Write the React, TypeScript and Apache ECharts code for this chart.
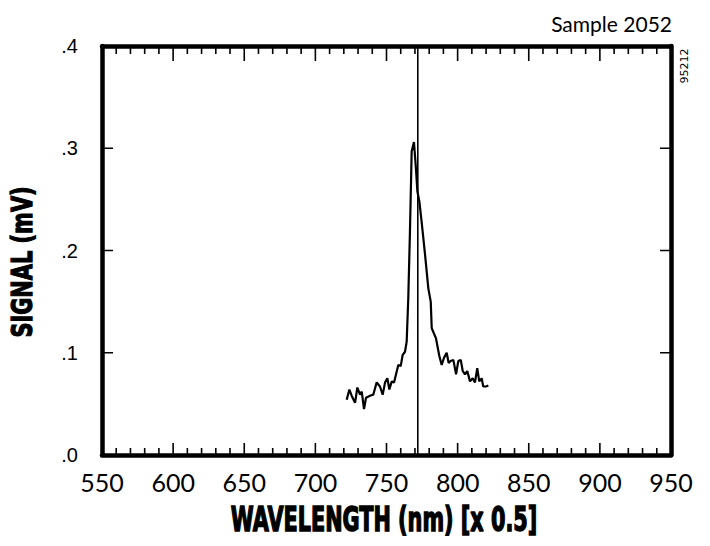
import React, { useEffect, useRef } from "react";
import * as echarts from "echarts";

const wavelengths = [
  722.0, 723.9, 725.5, 727.9, 729.5, 731.4, 732.6, 734.2, 735.6, 738.4, 740.7, 743.1,
  745.4, 747.3, 749.0, 750.6, 752.0, 753.7, 755.3, 756.7, 758.3, 760.0, 761.4, 763.0,
  764.2, 765.3, 766.5, 767.7, 769.3, 770.7, 771.7, 773.1, 774.7, 777.1, 779.4, 781.1,
  781.8, 784.8, 787.1, 788.8, 790.4, 792.3, 793.7, 795.1, 797.0, 798.9, 800.5, 802.2,
  803.6, 805.2, 806.8, 808.7, 810.6, 812.2, 813.8, 815.2, 816.9, 818.0, 819.9, 821.6,
];
const signal = [
  0.054, 0.064, 0.058, 0.051, 0.066, 0.059, 0.062, 0.045, 0.056, 0.058, 0.059, 0.071,
  0.067, 0.059, 0.071, 0.075, 0.064, 0.072, 0.071, 0.079, 0.088, 0.087, 0.098, 0.101,
  0.111, 0.153, 0.219, 0.297, 0.306, 0.28, 0.258, 0.248, 0.228, 0.196, 0.163, 0.15,
  0.124, 0.114, 0.097, 0.088, 0.095, 0.1, 0.09, 0.092, 0.093, 0.079, 0.092, 0.093,
  0.082, 0.079, 0.082, 0.072, 0.075, 0.071, 0.085, 0.072, 0.075, 0.067, 0.067, 0.068,
];
const markerWavelength = 772;
const xMin = 550;
const xMax = 950;
const xStep = 50;
const xMajorTicks = [550, 600, 650, 700, 750, 800, 850, 900, 950];
const xMinorOffsets = [10, 20, 30, 40];
const yMin = 0;
const yMax = 0.4;
const yStep = 0.1;
const yInnerTicks = [0.1, 0.2, 0.3];
const xTitle = "WAVELENGTH (nm) [x 0.5]";
const yTitle = "SIGNAL (mV)";
const sampleLabel = "Sample 2052";
const codeLabel = "95212";

const GRID = { left: 102, right: 39, top: 46, bottom: 91 };
const W = 710;
const H = 546;

const frame = { show: true, onZero: false, lineStyle: { color: "#000", width: 4.5 } };

export default function App() {
  const ref = useRef<HTMLDivElement>(null);
  useEffect(() => {
    if (!ref.current) return;
    const chart = echarts.init(ref.current, null, { renderer: "svg" });

    // tick lengths are given in pixels and converted to axis units
    const pxPerX = (W - GRID.left - GRID.right) / (xMax - xMin);
    const pxPerY = (H - GRID.top - GRID.bottom) / (yMax - yMin);
    const tickSegs: any[] = [];
    const seg = (x1: number, y1: number, x2: number, y2: number) => {
      tickSegs.push([x1, y1], [x2, y2], [x2, "-"]);
    };
    const xTick = (v: number, bottomPx: number, topPx: number) => {
      seg(v, yMin, v, yMin + bottomPx / pxPerY);
      seg(v, yMax, v, yMax - topPx / pxPerY);
    };
    xMajorTicks.forEach((m) => {
      xTick(m, 12, 15);
      if (m < xMax) xMinorOffsets.forEach((d) => xTick(m + d, 7, 8));
    });
    yInnerTicks.forEach((v) => {
      seg(xMin, v, xMin + 11 / pxPerX, v);
      seg(xMax, v, xMax - 11 / pxPerX, v);
    });

    chart.setOption({
      animation: false,
      backgroundColor: "#fff",
      grid: { ...GRID },
      xAxis: [
        {
          type: "value",
          position: "bottom",
          min: xMin,
          max: xMax,
          interval: xStep,
          axisLine: frame,
          axisTick: { show: false },
          splitLine: { show: false },
          axisLabel: {
            show: true,
            margin: 14,
            color: "#000",
            fontSize: 25,
            fontFamily: "Lato",
          },
        },
        {
          type: "value",
          position: "top",
          min: xMin,
          max: xMax,
          interval: xStep,
          axisLine: frame,
          axisTick: { show: false },
          splitLine: { show: false },
          axisLabel: { show: false },
        },
      ],
      yAxis: [
        {
          type: "value",
          position: "left",
          min: yMin,
          max: yMax,
          interval: yStep,
          axisLine: frame,
          axisTick: { show: false },
          splitLine: { show: false },
          axisLabel: {
            show: true,
            margin: 24,
            color: "#000",
            fontSize: 20,
            fontFamily: "Liberation Sans",
            padding: [6, 0, 0, 0],
            formatter: (v: number) => v.toFixed(1).replace(/^0/, ""),
          },
        },
        {
          type: "value",
          position: "right",
          min: yMin,
          max: yMax,
          interval: yStep,
          axisLine: frame,
          axisTick: { show: false },
          splitLine: { show: false },
          axisLabel: { show: false },
        },
      ],
      series: [
        {
          type: "line",
          name: "ticks",
          xAxisIndex: 0,
          yAxisIndex: 0,
          data: tickSegs,
          connectNulls: false,
          showSymbol: false,
          symbol: "none",
          silent: true,
          z: 10,
          lineStyle: { color: "#000", width: 1.6 },
        },
        {
          type: "line",
          xAxisIndex: 0,
          yAxisIndex: 0,
          data: wavelengths.map((w, i) => [w, signal[i]]),
          showSymbol: false,
          symbol: "none",
          lineStyle: { color: "#000", width: 2.2 },
        },
        {
          type: "line",
          xAxisIndex: 0,
          yAxisIndex: 0,
          data: [
            [markerWavelength, yMin],
            [markerWavelength, yMax],
          ],
          showSymbol: false,
          symbol: "none",
          lineStyle: { color: "#000", width: 1.6 },
        },
      ],
      graphic: [
        {
          type: "text",
          x: 384,
          y: 520,
          scaleX: 0.8,
          scaleY: 1.3,
          style: {
            text: xTitle,
            fill: "#000",
            stroke: "#000",
            lineWidth: 1.2,
            fontSize: 26,
            fontWeight: "bold",
            fontFamily: "DejaVu Sans",
            align: "center",
            verticalAlign: "middle",
          },
        },
        {
          type: "text",
          x: 22,
          y: 262,
          rotation: Math.PI / 2,
          scaleX: 0.95,
          scaleY: 1.25,
          style: {
            text: yTitle,
            fill: "#000",
            stroke: "#000",
            lineWidth: 1,
            fontSize: 22,
            fontWeight: "bold",
            fontFamily: "DejaVu Sans",
            align: "center",
            verticalAlign: "middle",
          },
        },
        {
          type: "text",
          x: 672,
          y: 23,
          style: {
            text: sampleLabel,
            fill: "#000",
            fontSize: 21,
            fontFamily: "Lato",
            align: "right",
            verticalAlign: "middle",
          },
        },
        {
          type: "text",
          x: 684,
          y: 66,
          rotation: Math.PI / 2,
          style: {
            text: codeLabel,
            fill: "#000",
            fontSize: 11,
            fontFamily: "DejaVu Sans",
            align: "center",
            verticalAlign: "middle",
          },
        },
      ],
    });
    return () => chart.dispose();
  }, []);
  return (
    <div
      ref={ref}
      style={{ position: "fixed", left: 0, top: 0, width: W, height: H, background: "#fff" }}
    />
  );
}
